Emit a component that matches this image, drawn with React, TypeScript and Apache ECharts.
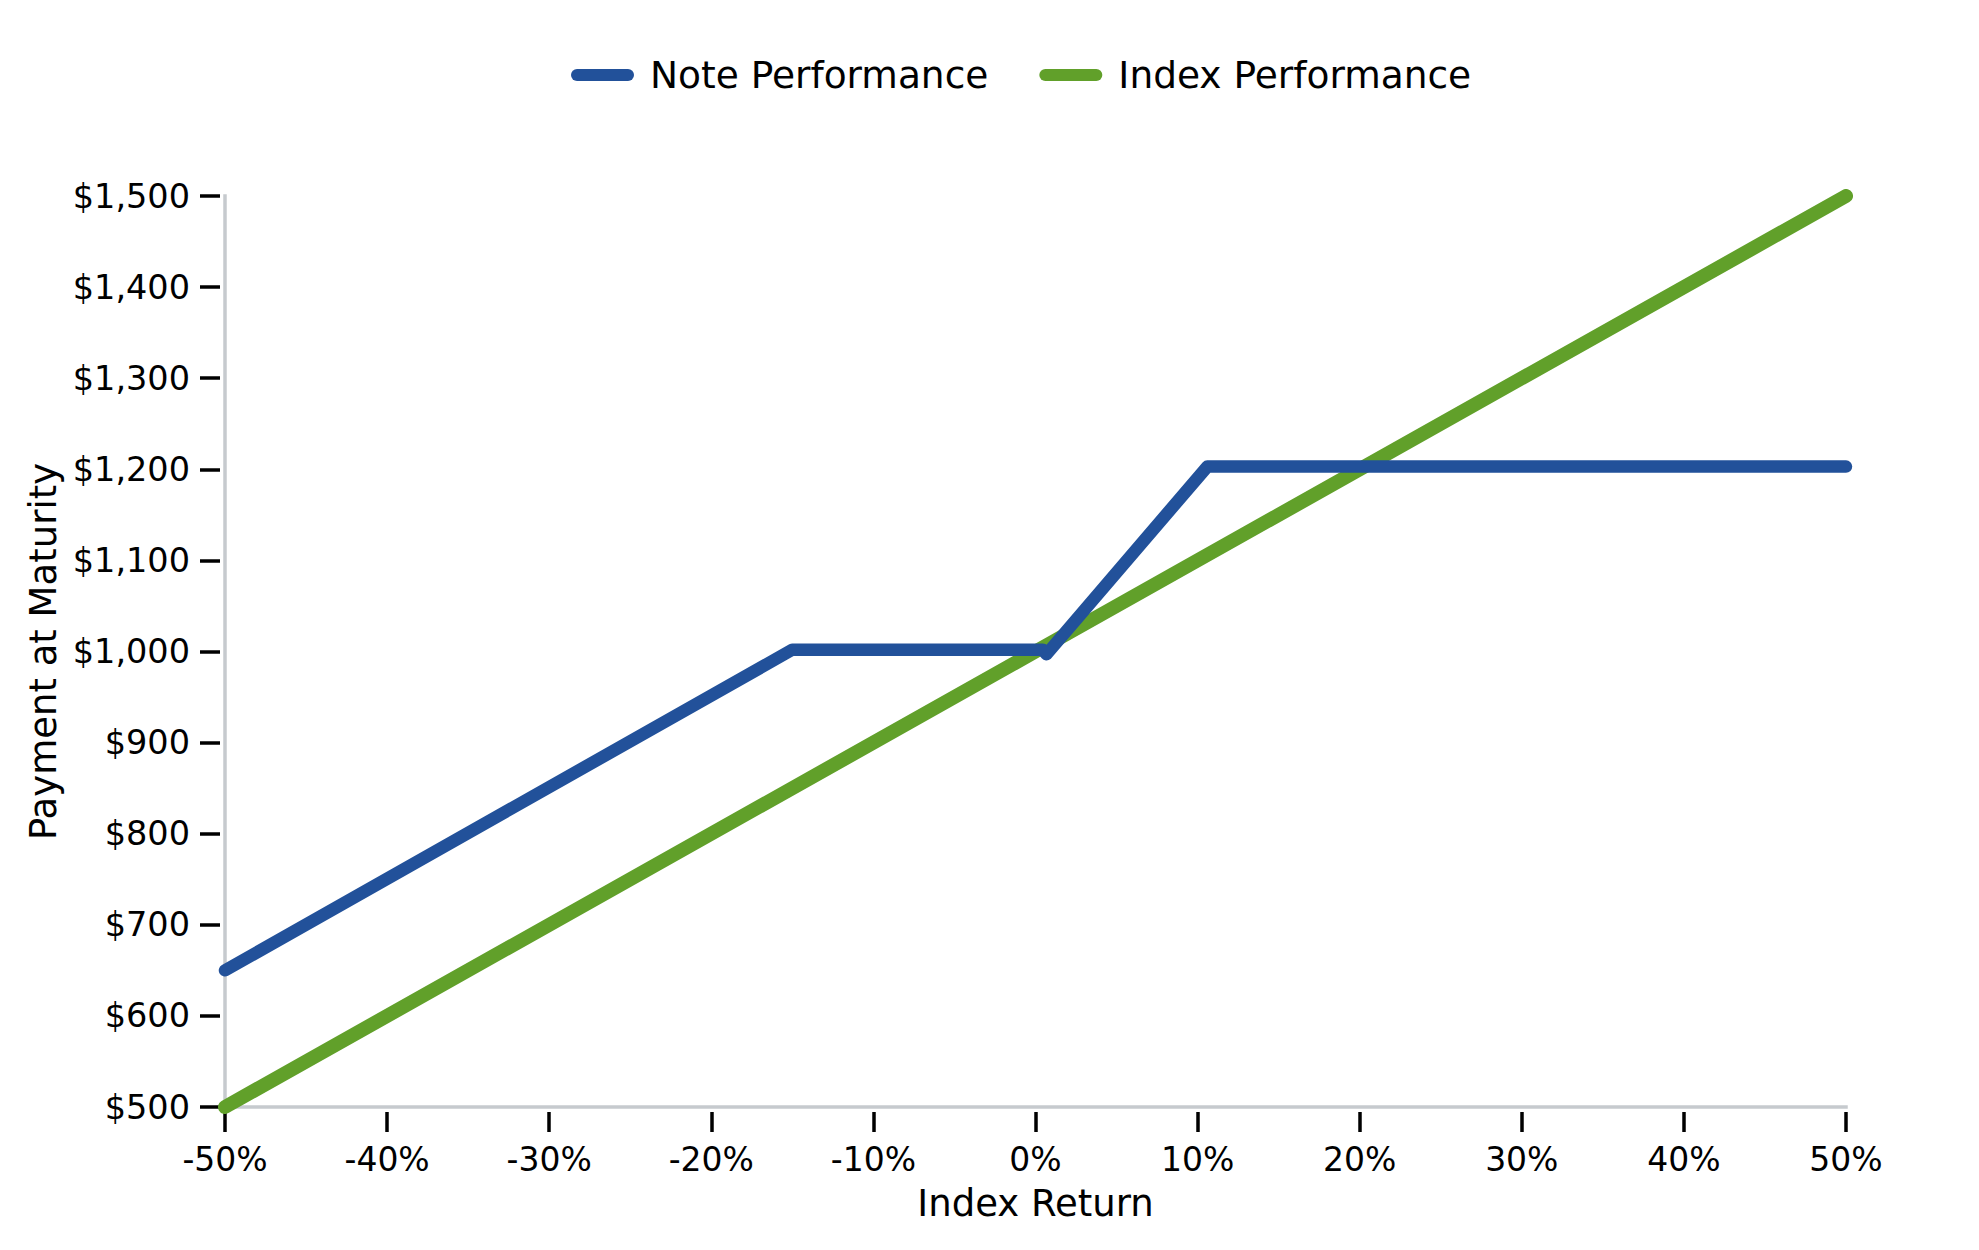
import React, { useEffect, useRef } from "react";
import * as echarts from "echarts";

// Index return (%) breakpoints and payment at maturity ($)
const noteReturns = [-50, -15.0, 0.45, 0.68, 10.6, 50];
const notePayments = [650, 1002, 1002, 997, 1203, 1203];
const indexReturns = [-50, 0, 50];
const indexPayments = [500, 1000, 1500];

const xTicks = [-50, -40, -30, -20, -10, 0, 10, 20, 30, 40, 50];
const yTicks = [500, 600, 700, 800, 900, 1000, 1100, 1200, 1300, 1400, 1500];

const seriesNames = ["Note Performance", "Index Performance"];
const BLUE = "#22519a";
const GREEN = "#61a02a";
const FONT = "DejaVu Sans";

export default function App() {
  const ref = useRef<HTMLDivElement>(null);
  useEffect(() => {
    if (!ref.current) return;
    const chart = echarts.init(ref.current, null, { renderer: "svg" });
    const noteData = noteReturns.map((x, i) => [x, notePayments[i]]);
    const indexData = indexReturns.map((x, i) => [x, indexPayments[i]]);
    const xMin = xTicks[0];
    const xMax = xTicks[xTicks.length - 1];
    const yMin = yTicks[0];
    const yMax = yTicks[yTicks.length - 1];
    const legendIcon =
      "path://M6,0 L57,0 A6,6 0 0 1 57,12 L6,12 A6,6 0 0 1 6,0 Z";
    chart.setOption({
      animation: false,
      backgroundColor: "#ffffff",
      textStyle: { fontFamily: FONT },
      legend: {
        data: seriesNames.map((n) => ({ name: n, icon: legendIcon })),
        left: 571,
        top: 56,
        padding: 0,
        itemWidth: 63,
        itemHeight: 12,
        itemGap: 51,
        textStyle: {
          fontFamily: FONT,
          fontSize: 37.5,
          color: "#000",
          padding: [0, 0, 0, 11],
        },
      },
      grid: { left: 225, right: 133, top: 196, bottom: 143, containLabel: false },
      xAxis: [
        {
          type: "value",
          min: xMin,
          max: xMax,
          interval: 10,
          offset: 5,
          name: "Index Return",
          nameLocation: "middle",
          nameGap: 73,
          nameTextStyle: { fontFamily: FONT, fontSize: 37, color: "#000", lineHeight: 37 },
          axisLine: { show: false, onZero: false },
          axisTick: { show: true, length: 20, lineStyle: { color: "#000", width: 3.5 } },
          axisLabel: {
            margin: 31,
            fontFamily: FONT,
            fontSize: 33,
            lineHeight: 33,
            color: "#000",
            formatter: (v: number) => `${v}%`,
          },
          splitLine: { show: false },
        },
        {
          type: "value",
          min: xMin,
          max: xMax,
          position: "bottom",
          offset: 0,
          axisLine: { show: true, onZero: false, lineStyle: { color: "#c6cace", width: 3.5, cap: "square" } },
          axisTick: { show: false },
          axisLabel: { show: false },
          splitLine: { show: false },
        },
      ],
      yAxis: [
        {
          type: "value",
          min: yMin,
          max: yMax,
          interval: 100,
          offset: 5,
          name: "Payment at Maturity",
          nameLocation: "middle",
          nameGap: 156,
          nameTextStyle: { fontFamily: FONT, fontSize: 37, color: "#000", lineHeight: 37 },
          axisLine: { show: false, onZero: false },
          axisTick: { show: true, length: 20, lineStyle: { color: "#000", width: 3.5 } },
          axisLabel: {
            margin: 30,
            fontFamily: FONT,
            fontSize: 33.5,
            lineHeight: 33.5,
            color: "#000",
            padding: [8, 0, 0, 0],
            formatter: (v: number) => "$" + v.toLocaleString("en-US"),
          },
          splitLine: { show: false },
        },
        {
          type: "value",
          min: yMin,
          max: yMax,
          position: "left",
          offset: 0,
          axisLine: { show: true, onZero: false, lineStyle: { color: "#c6cace", width: 3.5, cap: "square" } },
          axisTick: { show: false },
          axisLabel: { show: false },
          splitLine: { show: false },
        },
      ],
      series: [
        {
          name: seriesNames[1],
          type: "line",
          xAxisIndex: 0,
          yAxisIndex: 0,
          data: indexData,
          showSymbol: false,
          color: GREEN,
          lineStyle: { color: GREEN, width: 14, cap: "round", join: "round" },
          z: 2,
        },
        {
          name: seriesNames[0],
          type: "line",
          xAxisIndex: 0,
          yAxisIndex: 0,
          data: noteData,
          showSymbol: false,
          color: BLUE,
          lineStyle: { color: BLUE, width: 12.5, cap: "round", join: "round" },
          z: 3,
        },
      ],
    });
    return () => chart.dispose();
  }, []);
  return (
    <div
      ref={ref}
      style={{ position: "absolute", left: 0, top: 0, width: 1979, height: 1250 }}
    />
  );
}
